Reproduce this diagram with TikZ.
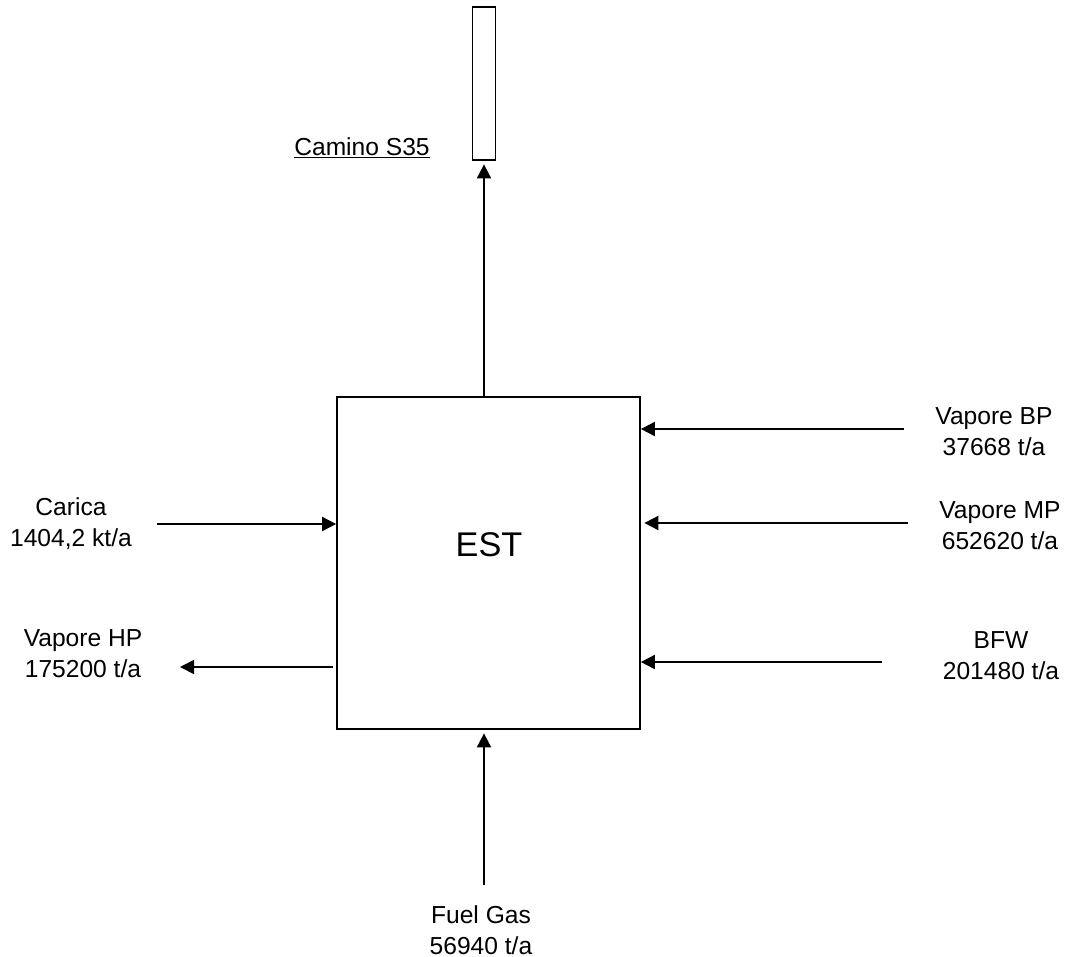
\documentclass[tikz,border=0pt]{standalone}
\usepackage{fontspec}
\setmainfont{Liberation Sans}
\usetikzlibrary{arrows.meta}
\tikzset{
  flow/.style={line width=1pt,-{Triangle[length=8pt,width=8pt]}},
  stream/.style={align=center,font=\fontsize{14}{17.8}\selectfont,inner sep=0pt},
}
\begin{document}
\begin{tikzpicture}[x=0.02cm,y=-0.02cm]
		\useasboundingbox (0,0) rectangle (1072,957);
		% Unita' EST
		\node[draw,line width=1pt,minimum width=6.06cm,minimum height=6.64cm,inner sep=0pt] (est) at (488.5,563) {};
		\node[font=\fontsize{19.5}{23}\selectfont,inner sep=0pt] (estname) at (489,545) {EST};
		% Camino
		\node[draw,line width=1pt,minimum width=0.46cm,minimum height=3.06cm,inner sep=0pt] (camino) at (484,83.5) {};
		\node[stream] (lcamino) at (362,148) {\underline{Camino S35}};
		\draw[flow,shorten >=2pt] (est.north -| camino.south) -- (camino.south);
		% Ingressi a sinistra
		\coordinate (carica) at (157,524);
		\draw[flow] (carica) -- (carica -| est.west);
		\node[stream] (lcarica) at (71,524) {Carica\\1404,2 kt/a};
		\coordinate (hp) at (180,667);
		\draw[flow,shorten <=2pt] (hp -| est.west) -- (hp);
		\node[stream] (lhp) at (83,654) {Vapore HP\\175200 t/a};
		% Ingressi a destra
		\coordinate (bp) at (904,429);
		\draw[flow] (bp) -- (bp -| est.east);
		\node[stream] (lbp) at (994,432) {Vapore BP\\37668 t/a};
		\coordinate (mp) at (908,523);
		\draw[flow,shorten >=2pt] (mp) -- (mp -| est.east);
		\node[stream] (lmp) at (1000,526) {Vapore MP\\652620 t/a};
		\coordinate (bfw) at (882,662);
		\draw[flow] (bfw) -- (bfw -| est.east);
		\node[stream] (lbfw) at (1001,656) {BFW\\201480 t/a};
		% Fuel gas
		\coordinate (fuel) at (484,885);
		\draw[flow,shorten >=2pt] (fuel) -- (fuel |- est.south);
		\node[stream] (lfuel) at (481,930) {Fuel Gas\\56940 t/a};
\end{tikzpicture}
\end{document}
